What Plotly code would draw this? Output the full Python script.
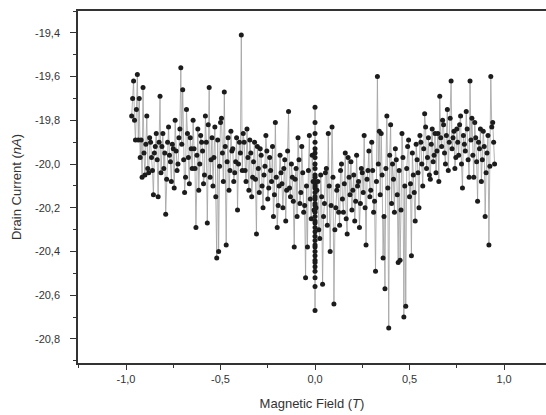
import plotly.graph_objects as go

# Magnetic field sweep (T) and drain current (nA).
# Coarse grid readings on the negative branch
field_neg = [-0.97, -0.96, -0.95, -0.94, -0.93, -0.92, -0.91, -0.90, -0.89, -0.88,
             -0.87, -0.86, -0.85, -0.84, -0.83, -0.82, -0.81, -0.80, -0.79, -0.78,
             -0.77, -0.76, -0.75, -0.74, -0.73, -0.72, -0.71, -0.70, -0.69, -0.68,
             -0.67, -0.66, -0.65, -0.64, -0.63, -0.62, -0.61, -0.60, -0.59, -0.58,
             -0.57, -0.56, -0.55, -0.54, -0.53, -0.52, -0.51, -0.50, -0.49, -0.48,
             -0.47, -0.46, -0.45, -0.44, -0.43, -0.42, -0.41, -0.40, -0.39, -0.38,
             -0.37, -0.36, -0.35, -0.34, -0.33, -0.32, -0.31, -0.30, -0.29, -0.28,
             -0.27, -0.26, -0.25, -0.24, -0.23, -0.22, -0.21, -0.20, -0.19, -0.18,
             -0.17, -0.16, -0.15, -0.14, -0.13, -0.12, -0.11, -0.10, -0.09, -0.08,
             -0.07, -0.06, -0.05, -0.04, -0.03, -0.02, -0.01]
current_neg = [-19.78, -19.62, -19.89, -19.59, -19.70, -19.89, -19.65, -20.05, -19.78, -20.04,
               -19.90, -20.03, -19.95, -19.86, -20.15, -19.69, -19.92, -20.02, -20.23, -19.90,
               -19.96, -20.08, -19.93, -19.80, -20.03, -19.88, -19.56, -19.66, -20.13, -19.75,
               -19.97, -19.88, -20.02, -19.93, -20.29, -19.84, -20.00, -19.90, -20.09, -19.78,
               -20.27, -19.65, -19.98, -20.10, -19.83, -20.43, -20.40, -19.81, -19.95, -19.67,
               -20.37, -19.88, -20.03, -19.94, -20.08, -19.99, -20.21, -19.90, -19.41, -19.86,
               -20.03, -19.84, -20.12, -19.95, -20.06, -19.90, -20.32, -20.02, -19.93, -20.10,
               -20.05, -19.87, -20.16, -19.97, -20.08, -20.24, -19.81, -20.29, -20.10, -20.04,
               -20.20, -19.98, -20.12, -19.76, -20.15, -20.06, -20.38, -20.02, -19.88, -20.18,
               -19.92, -20.22, -20.52, -20.38, -19.87, -20.25, -20.08]

# Intermediate readings on the negative branch
field_neg_mid = [-0.965, -0.955, -0.945, -0.935, -0.925, -0.915, -0.905, -0.895, -0.885, -0.875,
                 -0.865, -0.855, -0.845, -0.835, -0.825, -0.815, -0.805, -0.795, -0.785, -0.775,
                 -0.765, -0.755, -0.745, -0.735, -0.725, -0.715, -0.705, -0.695, -0.685, -0.675,
                 -0.665, -0.655, -0.645, -0.635, -0.625, -0.615, -0.605, -0.595, -0.585, -0.575,
                 -0.565, -0.555, -0.545, -0.535, -0.525, -0.515, -0.505, -0.495, -0.485, -0.475,
                 -0.465, -0.455, -0.445, -0.435, -0.425, -0.415, -0.405, -0.395, -0.385, -0.375,
                 -0.365, -0.355, -0.345, -0.335, -0.325, -0.315, -0.305, -0.295, -0.285, -0.275,
                 -0.265, -0.255, -0.245, -0.235, -0.225, -0.215, -0.205, -0.195, -0.185, -0.175,
                 -0.165, -0.155, -0.145, -0.135, -0.125, -0.115, -0.105, -0.095, -0.085, -0.075,
                 -0.065, -0.055, -0.045, -0.035, -0.025, -0.015, -0.005]
current_neg_mid = [-19.70, -19.80, -19.75, -19.89, -19.97, -20.06, -19.95, -19.91, -20.02, -19.88,
                   -19.97, -20.14, -19.92, -19.98, -19.90, -20.04, -19.86, -19.95, -20.07, -19.83,
                   -19.99, -19.91, -20.11, -19.94, -20.00, -19.84, -19.91, -19.98, -20.06, -19.86,
                   -20.09, -19.93, -19.80, -20.02, -19.96, -20.12, -19.87, -19.94, -20.05, -19.90,
                   -19.82, -20.06, -19.88, -19.97, -20.15, -19.89, -20.01, -19.79, -20.08, -19.92,
                   -19.99, -20.12, -19.85, -19.93, -20.04, -19.88, -20.00, -19.95, -20.03, -19.90,
                   -20.08, -19.97, -19.89, -20.15, -19.99, -20.07, -19.92, -20.13, -19.96, -20.20,
                   -20.01, -19.94, -20.11, -20.03, -19.92, -20.14, -20.06, -20.19, -19.96, -20.09,
                   -20.02, -20.26, -19.94, -20.11, -20.00, -20.17, -20.07, -20.24, -19.98, -20.13,
                   -20.04, -20.19, -20.10, -20.03, -20.16, -19.96, -20.21]

# Repeated readings at zero field
field_zero = [0.0, 0.0, 0.0, 0.0, 0.0, 0.0, 0.0, 0.0, 0.0, 0.0,
              0.0, 0.0, 0.0, 0.0, 0.0, 0.0, 0.0, 0.0, 0.0, 0.0,
              0.0, 0.0, 0.0, 0.0, 0.0, 0.0, 0.0, 0.0, 0.0, 0.0,
              0.0, 0.0, 0.0, 0.0, 0.0, 0.0, 0.0, 0.0, 0.0, 0.0]
current_zero = [-20.10, -19.74, -20.31, -19.93, -20.44, -20.05, -20.67, -19.81, -20.22, -20.38,
                -19.97, -20.15, -20.49, -19.86, -20.27, -20.08, -20.56, -20.19, -19.90, -20.35,
                -20.02, -20.42, -20.13, -20.24, -20.47, -20.00, -20.29, -20.11, -20.40, -20.18,
                -20.33, -20.06, -20.52, -20.21, -19.95, -20.37, -20.16, -20.45, -20.26, -20.09]

# Coarse grid readings on the positive branch
field_pos = [0.01, 0.02, 0.03, 0.04, 0.05, 0.06, 0.07, 0.08, 0.09, 0.10,
             0.11, 0.12, 0.13, 0.14, 0.15, 0.16, 0.17, 0.18, 0.19, 0.20,
             0.21, 0.22, 0.23, 0.24, 0.25, 0.26, 0.27, 0.28, 0.29, 0.30,
             0.31, 0.32, 0.33, 0.34, 0.35, 0.36, 0.37, 0.38, 0.39, 0.40,
             0.41, 0.42, 0.43, 0.44, 0.45, 0.46, 0.47, 0.48, 0.49, 0.50,
             0.51, 0.52, 0.53, 0.54, 0.55, 0.56, 0.57, 0.58, 0.59, 0.60,
             0.61, 0.62, 0.63, 0.64, 0.65, 0.66, 0.67, 0.68, 0.69, 0.70,
             0.71, 0.72, 0.73, 0.74, 0.75, 0.76, 0.77, 0.78, 0.79, 0.80,
             0.81, 0.82, 0.83, 0.84, 0.85, 0.86, 0.87, 0.88, 0.89, 0.90,
             0.91, 0.92, 0.93, 0.94, 0.95]
current_pos = [-20.12, -20.30, -20.05, -20.55, -20.18, -20.02, -19.86, -20.40, -19.83, -20.64,
               -20.20, -20.10, -20.28, -20.00, -20.22, -19.95, -20.32, -20.06, -19.99, -20.12,
               -20.26, -19.96, -20.08, -20.18, -20.04, -19.87, -20.37, -20.03, -20.15, -19.90,
               -20.22, -20.49, -19.60, -19.85, -19.86, -20.43, -20.57, -19.78, -20.75, -19.82,
               -20.00, -20.22, -19.98, -20.45, -20.44, -19.86, -20.70, -20.65, -19.92, -20.15,
               -20.42, -20.05, -20.26, -19.98, -20.20, -19.90, -20.10, -19.77, -20.02, -19.88,
               -20.07, -19.84, -19.96, -20.04, -19.86, -19.69, -19.92, -19.82, -20.00, -19.75,
               -19.90, -19.62, -19.88, -20.02, -19.84, -19.96, -19.78, -20.11, -19.91, -19.76,
               -19.98, -19.62, -19.79, -20.06, -19.88, -20.17, -19.93, -20.08, -19.85, -20.24,
               -19.95, -20.37, -19.60, -19.81, -20.00]

# Intermediate readings on the positive branch
field_pos_mid = [0.005, 0.015, 0.025, 0.035, 0.045, 0.055, 0.065, 0.075, 0.085, 0.095,
                 0.105, 0.115, 0.125, 0.135, 0.145, 0.155, 0.165, 0.175, 0.185, 0.195,
                 0.205, 0.215, 0.225, 0.235, 0.245, 0.255, 0.265, 0.275, 0.285, 0.295,
                 0.305, 0.315, 0.325, 0.335, 0.345, 0.355, 0.365, 0.375, 0.385, 0.395,
                 0.405, 0.415, 0.425, 0.435, 0.445, 0.455, 0.465, 0.475, 0.485, 0.495,
                 0.505, 0.515, 0.525, 0.535, 0.545, 0.555, 0.565, 0.575, 0.585, 0.595,
                 0.605, 0.615, 0.625, 0.635, 0.645, 0.655, 0.665, 0.675, 0.685, 0.695,
                 0.705, 0.715, 0.725, 0.735, 0.745, 0.755, 0.765, 0.775, 0.785, 0.795,
                 0.805, 0.815, 0.825, 0.835, 0.845, 0.855, 0.865, 0.875, 0.885, 0.895,
                 0.905, 0.915, 0.925, 0.935, 0.945]
current_pos_mid = [-20.20, -20.08, -20.34, -20.15, -20.24, -20.04, -20.28, -20.10, -20.19, -20.06,
                   -20.30, -20.12, -20.22, -20.03, -20.16, -20.09, -20.25, -19.97, -20.14, -20.21,
                   -20.05, -20.17, -20.10, -20.29, -20.02, -20.13, -20.20, -20.07, -19.94, -20.12,
                   -20.03, -20.17, -20.08, -20.00, -20.14, -20.05, -20.24, -20.02, -20.11, -19.96,
                   -20.18, -20.07, -19.93, -20.14, -20.03, -20.21, -19.97, -20.10, -20.02, -19.89,
                   -20.09, -19.95, -20.13, -19.91, -20.04, -19.87, -20.00, -19.93, -19.83, -19.97,
                   -20.05, -19.91, -19.99, -19.86, -19.94, -20.08, -19.88, -19.80, -19.95, -19.87,
                   -20.03, -19.79, -19.93, -19.85, -19.97, -19.90, -19.82, -20.00, -19.87, -19.94,
                   -19.84, -20.06, -19.89, -19.96, -19.81, -19.99, -19.90, -19.84, -19.98, -19.92,
                   -20.04, -19.87, -20.01, -19.83, -19.90]

# Merge all readings into one sweep ordered by field (stable for the zero-field column)
readings = sorted(
    list(zip(field_neg, current_neg)) + list(zip(field_neg_mid, current_neg_mid))
    + list(zip(field_zero, current_zero))
    + list(zip(field_pos, current_pos)) + list(zip(field_pos_mid, current_pos_mid)),
    key=lambda p: p[0],
)
field = [p[0] for p in readings]
current = [p[1] for p in readings]

x_tickvals = [-1.0, -0.5, 0.0, 0.5, 1.0]
x_ticktext = ["-1,0", "-0,5", "0,0", "0,5", "1,0"]
y_tickvals = [-20.8, -20.6, -20.4, -20.2, -20.0, -19.8, -19.6, -19.4]
y_ticktext = ["-20,8", "-20,6", "-20,4", "-20,2", "-20,0", "-19,8", "-19,6", "-19,4"]

fig = go.Figure()
fig.add_trace(go.Scatter(
    x=field, y=current,
    mode="lines+markers",
    line=dict(color="#a0a0a0", width=0.8),
    marker=dict(color="#1c1c1c", size=5, symbol="circle"),
    showlegend=False,
))

axis_color = "#333333"
fig.update_layout(
    width=546, height=415,
    margin=dict(l=78, r=0, t=11, b=52),
    paper_bgcolor="white", plot_bgcolor="white",
    font=dict(family="Liberation Sans, Arial, sans-serif", color="#333333"),
    xaxis=dict(
        range=[-1.254, 1.222],
        tickvals=x_tickvals, ticktext=x_ticktext,
        ticks="outside", ticklen=5, tickwidth=1.3, tickcolor=axis_color,
        minor=dict(dtick=0.25, tick0=0, ticks="outside", ticklen=3,
                   tickwidth=1.2, tickcolor=axis_color, showgrid=False),
        showline=True, linecolor=axis_color, linewidth=1.5, mirror=True,
        showgrid=False, zeroline=False,
        tickfont=dict(size=11, color="#333333"),
        title=dict(text="Magnetic Field (<i>T</i>)", font=dict(size=13, color="#333333"),
                   standoff=15),
    ),
    yaxis=dict(
        range=[-20.91, -19.30],
        tickvals=y_tickvals, ticktext=y_ticktext,
        ticks="outside", ticklen=6, tickwidth=1.3, tickcolor=axis_color,
        minor=dict(dtick=0.1, tick0=0, ticks="outside", ticklen=3,
                   tickwidth=1.2, tickcolor=axis_color, showgrid=False),
        showline=True, linecolor=axis_color, linewidth=1.5, mirror=False,
        showgrid=False, zeroline=False,
        ticklabelstandoff=8,
        tickfont=dict(size=11, color="#333333"),
        title=dict(text="Drain Current (<i>nA</i>)", font=dict(size=13, color="#333333"),
                   standoff=10),
    ),
)

fig.write_html("out.html")
